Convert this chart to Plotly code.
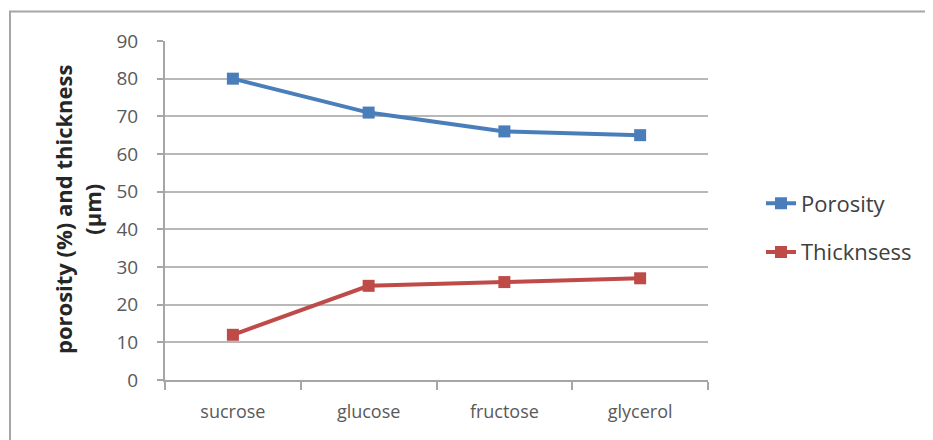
import plotly.graph_objects as go

categories = ["sucrose", "glucose", "fructose", "glycerol"]
porosity = [80, 71, 66, 65]
thickness = [12, 25, 26, 27]
y_ticks = [0, 10, 20, 30, 40, 50, 60, 70, 80, 90]

FONT = "Open Sans"
OFF = 8  # page body margin
W, H = 933 - OFF, 440 - OFF
L, T = 165 - OFF, 41 - OFF
R = W - (708 - OFF)
B = H - (380 - OFF)
pw, ph = W - L - R, H - T - B

def px_x(x):
    return (x - OFF - L) / pw

def px_y(y):
    return (H - B - (y - OFF)) / ph

fig = go.Figure()
fig.add_trace(go.Scatter(
    x=categories, y=porosity, name="Porosity", mode="lines+markers",
    line=dict(color="#4a7ebb", width=4),
    marker=dict(symbol="square", size=12, color="#4a7ebb"),
    legendgroup="a"))
fig.add_trace(go.Scatter(
    x=categories, y=thickness, name="Thicknsess", mode="lines+markers",
    line=dict(color="#be4b48", width=4),
    marker=dict(symbol="square", size=12, color="#be4b48"),
    legendgroup="b"))

fig.update_layout(
    width=W, height=H,
    margin=dict(l=L, r=R, t=T, b=B),
    paper_bgcolor="white", plot_bgcolor="white",
    font=dict(family=FONT, size=19, color="#595959"),
    showlegend=True,
    legend=dict(x=px_x(761), y=px_y(228), xanchor="left", yanchor="middle",
                font=dict(size=22, color="#404040"),
                tracegroupgap=17, traceorder="grouped",
                bgcolor="rgba(0,0,0,0)"),
    xaxis=dict(type="category", showgrid=False, showline=True,
               linecolor="#a6a6a6", linewidth=2, ticks="outside",
               tickson="boundaries", ticklen=8, tickcolor="#a6a6a6",
               tickwidth=2, tickfont=dict(size=18, color="#595959"),
               range=[-0.5, 3.5], ticklabelstandoff=14),
    yaxis=dict(range=[0, 90], tickvals=y_ticks, showgrid=True,
               gridcolor="#b8b8b8", gridwidth=2, showline=True,
               linecolor="#a6a6a6", linewidth=2, ticks="outside",
               ticklen=6, tickcolor="#a6a6a6", tickwidth=2,
               tickfont=dict(size=19, color="#595959"), zeroline=False,
               ticklabelstandoff=15),
    shapes=[dict(type="rect", xref="paper", yref="paper",
                 x0=px_x(10), x1=px_x(980), y0=px_y(480), y1=px_y(11.5),
                 line=dict(color="#a6a6a6", width=2), layer="below")],
    annotations=[dict(text="<b>porosity (%) and thickness<br>(µm)</b>",
                      xref="paper", yref="paper", x=px_x(77), y=px_y(210),
                      xanchor="center", yanchor="middle",
                      textangle=-90, showarrow=False,
                      font=dict(size=22, color="#262626", family=FONT))],
)

fig.write_html("out.html")
